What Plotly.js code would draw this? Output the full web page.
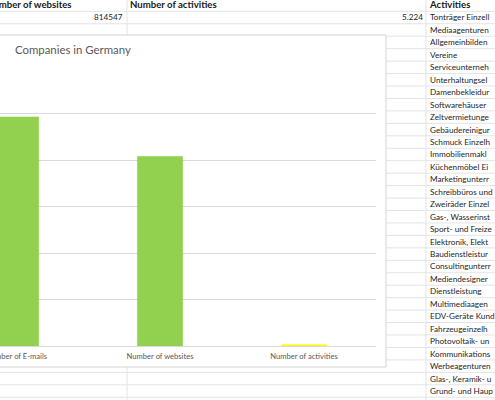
<!DOCTYPE html>
<html>
<head>
<meta charset="utf-8">
<script src="https://cdn.plot.ly/plotly-3.0.1.min.js"></script>
<style>
html,body{margin:0;padding:0;background:#fff;overflow:hidden;}
#chart{width:495px;height:400px;}
</style>
</head>
<body>
<div id="chart"></div>
<script>
// ---- data ----
const categories = ['Number of E-mails', 'Number of websites', 'Number of activities'];
const companyCounts = [985000, 814547, 5224];
const headerLabels = ['Number of websites', 'Number of activities', 'Activities'];
const websitesCell = '814547';
const activitiesCell = '5.224';
const activityNames = [
  'Tonträger Einzell', 'Mediaagenturen', 'Allgemeinbilden', 'Vereine',
  'Serviceunterneh', 'Unterhaltungsel', 'Damenbekleidur', 'Softwarehäuser',
  'Zeltvermietunge', 'Gebäudereinigur', 'Schmuck Einzelh', 'Immobilienmakl',
  'Küchenmöbel Ei', 'Marketingunterr', 'Schreibbüros und', 'Zweiräder Einzel',
  'Gas-, Wasserinst', 'Sport- und Freize', 'Elektronik, Elekt', 'Baudienstleistur',
  'Consultingunterr', 'Mediendesigner', 'Dienstleistung', 'Multimediaagen',
  'EDV-Geräte Kund', 'Fahrzeugeinzelh', 'Photovoltaik- un', 'Kommunikations',
  'Werbeagenturen', 'Glas-, Keramik- u', 'Grund- und Haup'
];

// ---- styling / layout helpers ----
const W = 495, H = 400;
const px = x => x / W;
const py = y => 1 - y / H;
const barColors = ['#92d050', '#92d050', '#ffff00'];
const cellFont = {family: 'Lato, sans-serif', size: 8.2, color: '#262626'};
const headFont = {family: 'Lato, sans-serif', size: 9.6, color: '#1a1a1a'};
const gridCol = '#e3e3e3';

const shapes = [];
const annotations = [];

// spreadsheet row lines
const rowTop = 11.3, rowH = 12.45;
for (let k = 0; k <= 32; k++) {
  const y = rowTop + rowH * k;
  shapes.push({type: 'line', xref: 'paper', yref: 'paper', layer: 'below',
    x0: 0, x1: 1, y0: py(y), y1: py(y), line: {color: gridCol, width: 1}});
}
// column lines
[127, 426].forEach(x => shapes.push({type: 'line', xref: 'paper', yref: 'paper', layer: 'below',
  x0: px(x), x1: px(x), y0: 0, y1: 1, line: {color: gridCol, width: 1}}));

// chart area background
shapes.push({type: 'rect', xref: 'paper', yref: 'paper', layer: 'below',
  x0: px(-3), x1: px(386), y0: py(367), y1: py(35),
  fillcolor: '#ffffff', line: {color: '#d4d4d4', width: 1}});

// header texts
const rowY = k => 5 + rowH * k;
annotations.push({xref: 'paper', yref: 'paper', x: px(74), y: py(rowY(0)), xanchor: 'right', yanchor: 'middle',
  text: '<b>' + headerLabels[0] + '</b>', showarrow: false, font: headFont});
annotations.push({xref: 'paper', yref: 'paper', x: px(127.5), y: py(rowY(0)), xanchor: 'left', yanchor: 'middle',
  text: '<b>' + headerLabels[1] + '</b>', showarrow: false, font: headFont});
annotations.push({xref: 'paper', yref: 'paper', x: px(427), y: py(rowY(0)), xanchor: 'left', yanchor: 'middle',
  text: '<b>' + headerLabels[2] + '</b>', showarrow: false, font: headFont});
annotations.push({xref: 'paper', yref: 'paper', x: px(125), y: py(rowY(1)), xanchor: 'right', yanchor: 'middle',
  text: websitesCell, showarrow: false, font: cellFont});
annotations.push({xref: 'paper', yref: 'paper', x: px(424.5), y: py(rowY(1)), xanchor: 'right', yanchor: 'middle',
  text: activitiesCell, showarrow: false, font: cellFont});
activityNames.forEach((name, i) => annotations.push({xref: 'paper', yref: 'paper',
  x: px(427.5), y: py(rowY(i + 1)), xanchor: 'left', yanchor: 'middle',
  text: name, showarrow: false, font: cellFont}));

// chart title
annotations.push({xref: 'paper', yref: 'paper', x: px(13), y: py(49), xanchor: 'left', yanchor: 'middle',
  text: 'Companies in Germany', showarrow: false,
  font: {family: 'Lato, sans-serif', size: 11.4, color: '#595959'}});

// category positions: centre of first at px 16, spacing 143.5, plot right edge at 376
const catSpacing = 143.5, firstCentre = 16;
const xStart = -firstCentre / catSpacing;

const trace = {
  type: 'bar',
  x: [0, 1, 2],
  y: companyCounts,
  width: 0.314,
  marker: {color: barColors, line: {color: barColors, width: 0.6}},
  hoverinfo: 'skip'
};

const layout = {
  width: W, height: H,
  margin: {l: 0, r: 0, t: 0, b: 0},
  paper_bgcolor: '#ffffff',
  plot_bgcolor: 'rgba(0,0,0,0)',
  showlegend: false,
  shapes: shapes,
  annotations: annotations,
  xaxis: {
    domain: [0, px(376)],
    range: [xStart, 2.5],
    tickmode: 'array',
    tickvals: [0, 1, 2],
    ticktext: categories,
    ticklabeloverflow: 'allow',
    ticklabelstandoff: 4,
    showgrid: false,
    zeroline: false,
    showline: false,
    ticks: '',
    tickfont: {family: 'Lato, sans-serif', size: 7.6, color: '#595959'},
    fixedrange: true
  },
  yaxis: {
    domain: [py(346), py(67)],
    range: [0, 1200000],
    dtick: 200000,
    showticklabels: false,
    showgrid: true,
    gridcolor: '#d9d9d9',
    gridwidth: 1,
    zeroline: true,
    zerolinecolor: '#d9d9d9',
    zerolinewidth: 1,
    fixedrange: true
  }
};

Plotly.newPlot('chart', [trace], layout, {staticPlot: true, displayModeBar: false});
</script>
</body>
</html>
